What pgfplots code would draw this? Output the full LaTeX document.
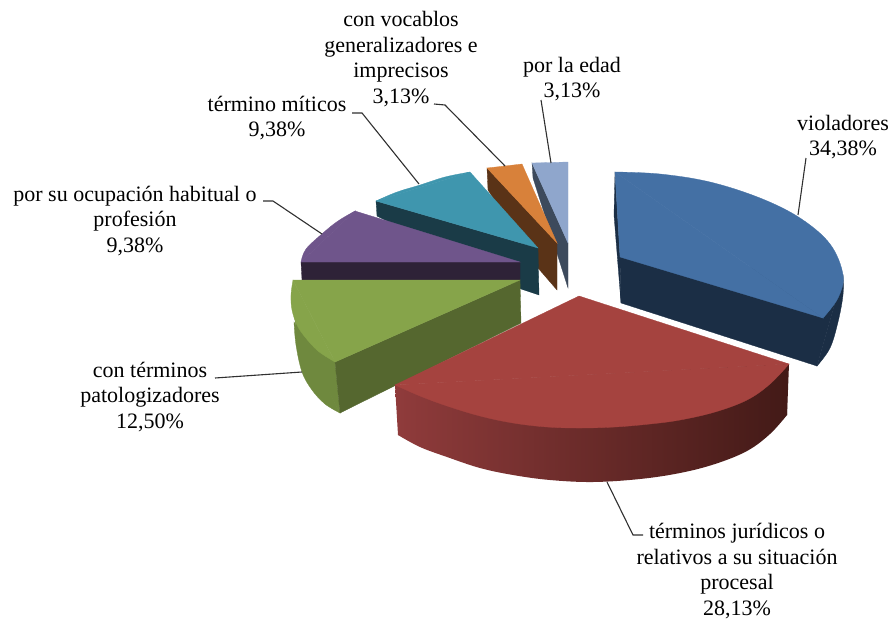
\documentclass[border=0pt]{standalone}
\usepackage{pgfplots}
\pgfplotsset{compat=1.18}
\usepackage{fontspec}
\setmainfont{Liberation Serif}
\definecolor{blueT}{HTML}{4470A4}\definecolor{blueD}{HTML}{1B2E45}
\definecolor{redT}{HTML}{A5433F}\definecolor{redA}{HTML}{8F3B3B}\definecolor{redB}{HTML}{632827}\definecolor{redC}{HTML}{431A17}
\definecolor{greenT}{HTML}{86A44A}\definecolor{greenD}{HTML}{55672F}\definecolor{greenA}{HTML}{6F893E}\definecolor{greenB}{HTML}{67803A}
\definecolor{purT}{HTML}{6F558B}\definecolor{purD}{HTML}{2E2237}
\definecolor{tealT}{HTML}{3F96AE}\definecolor{tealD}{HTML}{1A3B47}
\definecolor{oraT}{HTML}{D8813A}\definecolor{oraD}{HTML}{5A3317}
\definecolor{ltT}{HTML}{8FA6CC}\definecolor{ltD}{HTML}{3D4A5C}
\definecolor{leader}{HTML}{303030}
\tikzset{lab/.style={align=center, font=\fontsize{22}{25.7}\selectfont, text=black, inner sep=0pt},
 pg/.style={fill=#1,draw=#1,line width=0.3pt},
 arc/.style={fill=#1,draw=#1,line width=0.3pt,smooth,tension=0.6}}
\begin{document}
\begin{tikzpicture}
\begin{axis}[
  scale only axis, width=893pt, height=624pt,
  xmin=0, xmax=893, ymin=0, ymax=624, y dir=reverse,
  hide axis, clip=false, no markers,
]
% blue
\addplot[pg=blueD] coordinates {(620,257)(843,275)(817,366)(621,303)} --cycle;
\addplot[pg=blueD] coordinates {(615,172)(620,257)(621,303)(614,215)} --cycle;
\addplot[arc=blueD] coordinates {(843,275)(843,295)(838,322)(830,348)(817,366)} --cycle;
\addplot[arc=blueT] coordinates {(615,172)(660,174)(710,182)(760,198)(800,218)(830,244)(843,275)(838,298)(823,318)} --cycle;
\addplot[pg=blueT] coordinates {(615,172)(823,318)(620,257)} --cycle;
% light blue
\addplot[pg=ltD] coordinates {(532,163)(533,178)(568,288)(568,243)} --cycle;
\addplot[pg=ltT] coordinates {(532,163)(568,162)(568,243)} --cycle;
% orange
\addplot[pg=oraD] coordinates {(487,168)(557,243)(557,290)(538,268)(488,190)} --cycle;
\addplot[pg=oraT] coordinates {(487,168)(505,166)(522,164)(557,243)} --cycle;
% teal
\addplot[pg=tealD] coordinates {(376,201)(538,248)(539,295)(521,289)(377,216)} --cycle;
\addplot[arc=tealT] coordinates {(376,201)(397,192)(420,185)(445,177)(470,172)} --cycle;
\addplot[pg=tealT] coordinates {(376,201)(470,172)(538,248)} --cycle;
% purple
\addplot[pg=purD] coordinates {(301,262)(520,262)(520,280)(302,280)} --cycle;
\addplot[arc=purT] coordinates {(301,262)(306,249)(323,233)(338,221)(355,211)} --cycle;
\addplot[pg=purT] coordinates {(301,262)(355,211)(520,262)} --cycle;
% green
\addplot[pg=greenA] coordinates {(293,300)(296,330)(340,413)(335,362)} --cycle;
\addplot[arc=greenA] coordinates {(294,322)(296,345)(302,372)(312,390)(325,404)(340,413)} --cycle;
\addplot[pg=greenD] coordinates {(335,362)(520,280)(521,323)(340,413)} --cycle;
\addplot[arc=greenT] coordinates {(293,280)(291,295)(292,310)(297,325)(305,337)(318,351)(335,362)} --cycle;
\addplot[pg=greenT] coordinates {(293,280)(520,280)(335,362)} --cycle;
% red
\addplot[draw=none,smooth,tension=0.6,left color=redA,middle color=redB,right color=redC] coordinates {(787,415)(770,434)(747,451)(715,464)(680,473)(640,479)(593,482)(550,480)(513,475)(480,468)(447,457)(420,447)(398,435)} --cycle;
\addplot[draw=none,left color=redA,middle color=redB,right color=redC] coordinates {(398,385)(787,364)(787,415)(593,470)(398,435)} --cycle;
\addplot[draw=none,left color=redA,middle color=redA,right color=redA] coordinates {(395,385)(398,385)(398,435)} --cycle;
\addplot[draw=none,left color=redC,middle color=redC,right color=redC] coordinates {(789,364)(787,364)(787,415)} --cycle;
\addplot[arc=redT] coordinates {(395,385)(420,396)(447,406)(480,416)(513,423)(547,427)(580,428)(615,427)(650,424)(680,420)(715,412)(747,400)(770,384)(789,364)} --cycle;
\addplot[pg=redT] coordinates {(579,296)(789,364)(395,385)} --cycle;
% leaders
\addplot[leader,line width=1.1pt] coordinates {(798,215)(806,158)};
\addplot[leader,line width=1.1pt] coordinates {(541,100)(551,163)};
\addplot[leader,line width=1.1pt] coordinates {(434,104)(445,105)(505,166)};
\addplot[leader,line width=1.1pt] coordinates {(352,113)(362,113)(419,184)};
\addplot[leader,line width=1.1pt] coordinates {(263,201)(273,201)(322,234)};
\addplot[leader,line width=1.1pt] coordinates {(215,378)(302,372)};
\addplot[leader,line width=1.1pt] coordinates {(607,482)(633,535)(643,535)};
% labels
\node[lab] at (axis cs:401,59) {con vocablos\\generalizadores e\\imprecisos\\3,13\%};
\node[lab] at (axis cs:572,79) {por la edad\\3,13\%};
\node[lab] at (axis cs:277,118) {término míticos\\9,38\%};
\node[lab] at (axis cs:135,221) {por su ocupación habitual o\\profesión\\9,38\%};
\node[lab] at (axis cs:150,397) {con términos\\patologizadores\\12,50\%};
\node[lab] at (axis cs:843,137) {violadores\\34,38\%};
\node[lab] at (axis cs:737,571) {términos jurídicos o\\relativos a su situación\\procesal\\28,13\%};
\end{axis}
\pgfresetboundingbox
\path (0,0) rectangle (893pt,624pt);
\end{tikzpicture}
\end{document}
